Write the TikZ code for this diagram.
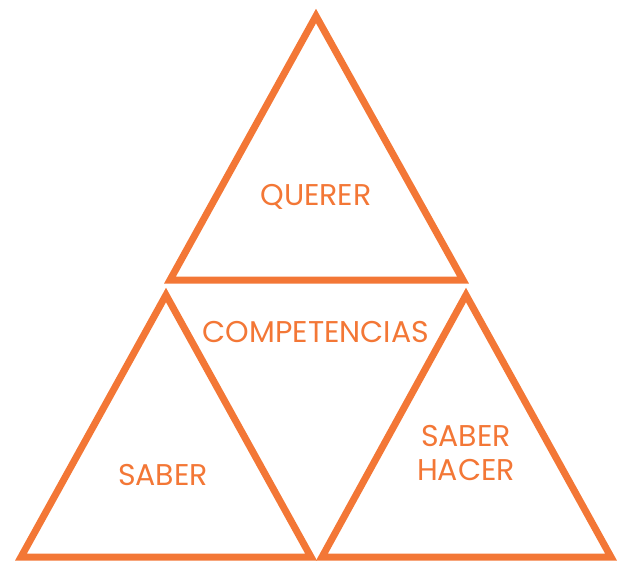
\documentclass[tikz,border=0pt]{standalone}
\usepackage{fontspec}
\setmainfont{Poppins}
\definecolor{org}{HTML}{F37736}
\begin{document}
\begin{tikzpicture}[x=1pt,y=-1pt,
  tri/.style={draw=org,line width=7pt,line join=miter},
  lbl/.style={text=org,font=\fontsize{30}{34}\selectfont,align=center,inner sep=0pt}]
\useasboundingbox (0,0) rectangle (621,560);
\draw[tri] (316,16) -- (170,280) -- (463,280) -- cycle;
\draw[tri] (166,295) -- (21,557) -- (311,557) -- cycle;
\draw[tri] (466,295) -- (322,557) -- (611,557) -- cycle;
\node[lbl] (q) at (316,197) {QUERER};
\node[lbl] (c) at (316,332) {COMPETENCIAS};
\node[lbl] (s) at (163,475) {SABER};
\node[lbl] (sh) at (466,453) {SABER\\HACER};
\end{tikzpicture}
\end{document}
